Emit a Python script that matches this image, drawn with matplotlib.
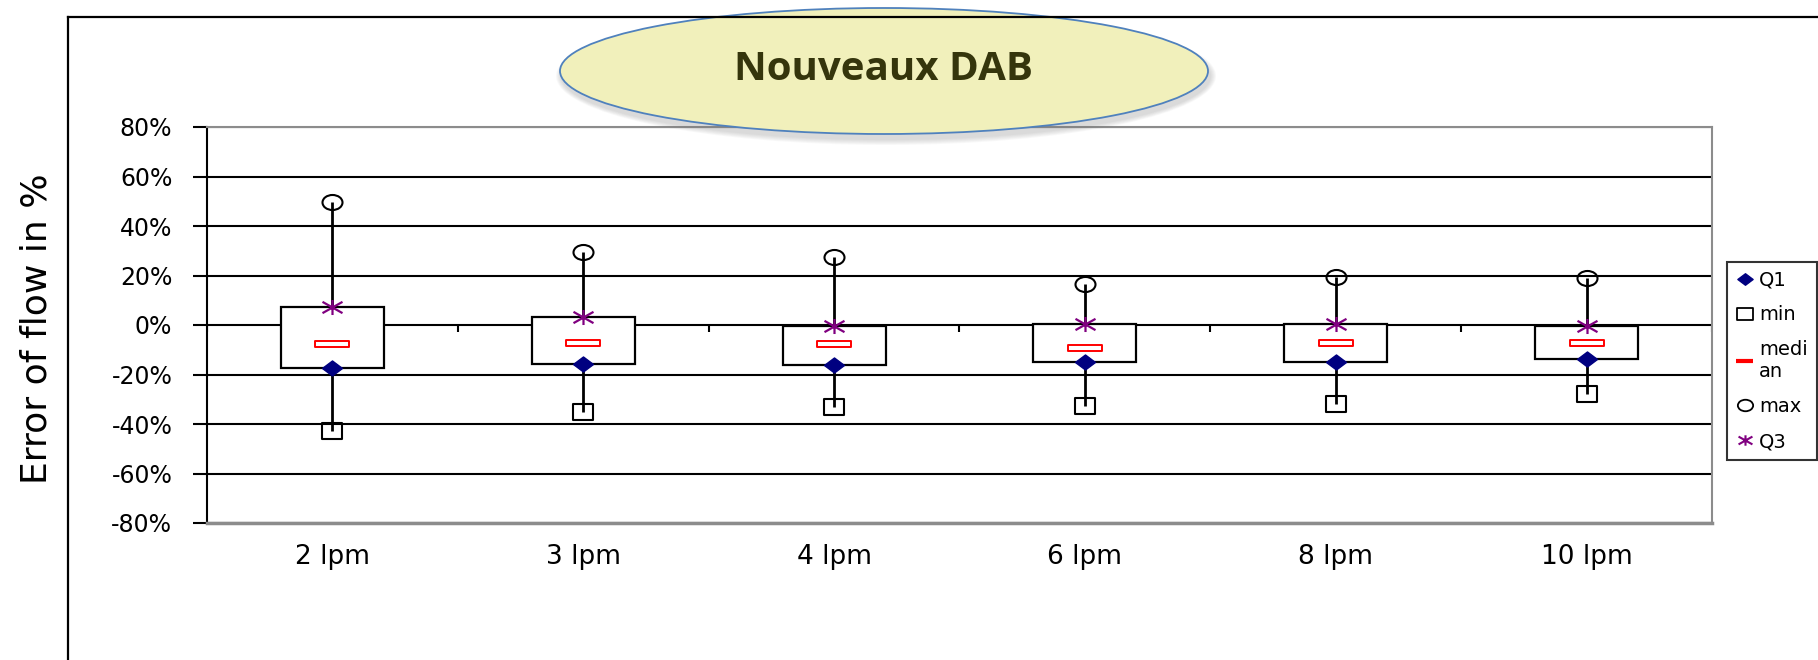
import numpy as np
import matplotlib
matplotlib.use("Agg")
import matplotlib.pyplot as plt
from matplotlib.path import Path
from matplotlib.patches import Ellipse
from matplotlib.lines import Line2D

# données (%)
categories = ["2 lpm", "3 lpm", "4 lpm", "6 lpm", "8 lpm", "10 lpm"]
q1_vals = [-17.5, -15.8, -16.3, -14.9, -15.0, -13.7]
min_vals = [-42.7, -35.3, -33.0, -32.6, -32.0, -28.0]
median_vals = [-7.8, -7.1, -7.8, -9.4, -7.1, -7.3]
max_vals = [49.6, 29.4, 27.3, 16.4, 19.5, 19.1]
q3_vals = [7.2, 3.1, -0.4, 0.6, 0.6, -0.3]
yticks = [-80, -60, -40, -20, 0, 20, 40, 60, 80]
legend_labels = ["Q1", "min", "medi\nan", "max", "Q3"]


def marker_path(verts, codes=None):
    return Path(np.array(verts, dtype=float), codes)


# marqueurs un peu étirés en largeur comme dans l'original
sx = 1.33
circle_m = Path(Path.unit_circle().vertices * [sx, 1.0], Path.unit_circle().codes)
square_m = marker_path([(-sx, -1), (sx, -1), (sx, 1), (-sx, 1), (-sx, -1)],
                       [Path.MOVETO, Path.LINETO, Path.LINETO, Path.LINETO, Path.CLOSEPOLY])
diamond_m = marker_path([(0, -1), (sx, 0), (0, 1), (-sx, 0), (0, -1)],
                        [Path.MOVETO, Path.LINETO, Path.LINETO, Path.LINETO, Path.CLOSEPOLY])
star_m = marker_path([(-sx, -0.75), (sx, 0.75), (-sx, 0.75), (sx, -0.75), (0, -1), (0, 1)],
                     [Path.MOVETO, Path.LINETO, Path.MOVETO, Path.LINETO, Path.MOVETO, Path.LINETO])
median_m = marker_path([(-1, -0.18), (1, -0.18), (1, 0.18), (-1, 0.18), (-1, -0.18)],
                       [Path.MOVETO, Path.LINETO, Path.LINETO, Path.LINETO, Path.CLOSEPOLY])

fig = plt.figure(figsize=(18.18, 6.6), dpi=100)
ax = fig.add_axes([207 / 1818, 1 - 523 / 660, 1505 / 1818, 396 / 660])

x = np.arange(len(categories))
q1 = np.array(q1_vals)
q3 = np.array(q3_vals)

ax.set_axisbelow(True)
ax.yaxis.grid(True, color="black", lw=1.5)

# boîtes Q1-Q3
ax.bar(x, q3 - q1, bottom=q1, width=0.41, color="white", edgecolor="black", lw=1.6, zorder=2)
# moustaches
ax.vlines(x, q3, max_vals, color="black", lw=2, zorder=3)
ax.vlines(x, min_vals, q1, color="black", lw=2, zorder=3)
# graduations de l'axe des catégories sur la ligne 0
ax.vlines(np.arange(len(categories) + 1) - 0.5, -3, 0, color="black", lw=1.5, zorder=1)

ax.plot(x, q1_vals, ls="none", marker=diamond_m, ms=14.4, color="#000080", zorder=5)
ax.plot(x, min_vals, ls="none", marker=square_m, ms=14.4, mfc="none", mec="black", mew=1.5, zorder=5)
ax.plot(x, median_vals, ls="none", marker=median_m, ms=24.5, mfc="white", mec="#ff0000", mew=1.4, zorder=5)
ax.plot(x, max_vals, ls="none", marker=circle_m, ms=14.4, mfc="none", mec="black", mew=1.5, zorder=5)
ax.plot(x, q3_vals, ls="none", marker=star_m, ms=14.4, mfc="none", mec="#800080", mew=1.6, zorder=5)

ax.set_xlim(-0.5, len(categories) - 0.5)
ax.set_ylim(-80, 80)
ax.set_yticks(yticks)
ax.set_yticklabels([f"{v}%" for v in yticks], fontsize=17)
ax.set_xticks(x)
ax.set_xticklabels(categories, fontsize=19)
ax.tick_params(axis="x", length=0, pad=15)
ax.tick_params(axis="y", length=10, width=1.5, pad=15, direction="out")

ax.spines["left"].set_color("black")
ax.spines["left"].set_linewidth(1.5)
for s in ["top", "right"]:
    ax.spines[s].set_color("#8c8c8c")
    ax.spines[s].set_linewidth(1.5)
ax.spines["bottom"].set_color("#8c8c8c")
ax.spines["bottom"].set_linewidth(2.5)

ax.set_ylabel("Error of flow in %", fontsize=26)
ax.yaxis.set_label_coords(-0.102, 0.49)

# légende
handles = [
    Line2D([], [], ls="none", marker=diamond_m, ms=11, color="#000080"),
    Line2D([], [], ls="none", marker=square_m, ms=11, mfc="none", mec="black", mew=1.3),
    Line2D([], [], color="#ff0000", lw=3, solid_capstyle="butt"),
    Line2D([], [], ls="none", marker=circle_m, ms=11, mfc="none", mec="black", mew=1.3),
    Line2D([], [], ls="none", marker=star_m, ms=10, mfc="none", mec="#800080", mew=1.5),
]
leg = ax.legend(handles, legend_labels, loc="upper left", bbox_to_anchor=(1.01, 0.66),
                borderaxespad=0, fontsize=14, frameon=True, fancybox=False,
                edgecolor="black", handlelength=0.9, handletextpad=0.3,
                labelspacing=0.82, borderpad=0.45)
leg.get_frame().set_linewidth(1.5)

# cadre de la zone de graphique
fig.add_artist(Line2D([68 / 1818, 68 / 1818], [0, 1 - 17 / 660], transform=fig.transFigure,
                      color="black", lw=1.6))
fig.add_artist(Line2D([68 / 1818, 1], [1 - 17 / 660, 1 - 17 / 660], transform=fig.transFigure,
                      color="black", lw=1.6))

# titre dans une ellipse avec ombre
cx, cy = 884 / 1818, 1 - 71 / 660
ew, eh = 648 / 1818, 126 / 660
for k in range(6):
    fig.add_artist(Ellipse((cx + 2 / 1818, cy - 5 / 660), ew + (6 - k) * 2 / 1818,
                           eh + (6 - k) * 2 / 660, transform=fig.transFigure,
                           facecolor="gray", edgecolor="none", alpha=0.05))
fig.add_artist(Ellipse((cx, cy), ew, eh, transform=fig.transFigure,
                       facecolor="#f1f0bb", edgecolor="#4f81bd", lw=1.3))
fig.text(cx, 1 - 69 / 660, "Nouveaux DAB", ha="center", va="center", fontsize=29,
         fontweight="bold", family="Open Sans", color="#35350c")

fig.savefig("out.png", dpi=100)
